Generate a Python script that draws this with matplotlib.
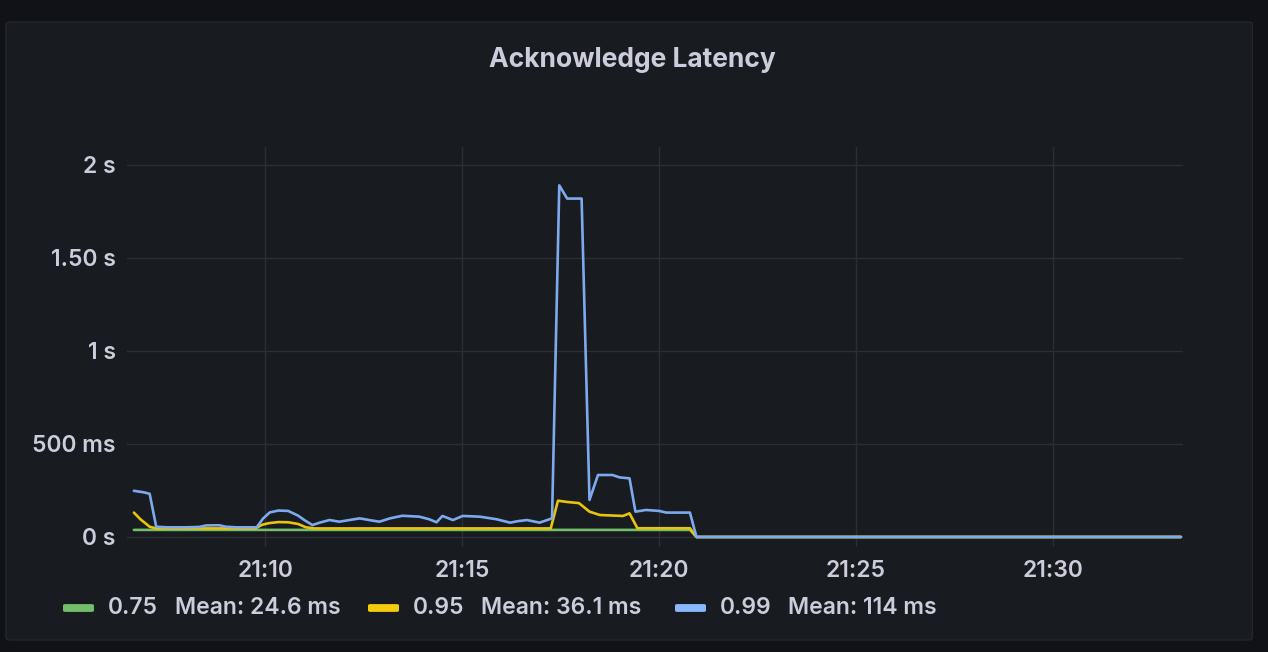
import matplotlib
matplotlib.use("Agg")
import matplotlib.pyplot as plt
from matplotlib.patches import FancyBboxPatch
import pandas as pd

title = "Acknowledge Latency"
day = "2021-06-01 "

# p75 latency (ms)
p75_times = ["21:06:40", "21:20:47", "21:20:57", "21:33:15"]
p75_ms = [38, 38, 0, 0]

# p95 latency (ms)
p95_times = ["21:06:40", "21:06:50", "21:07:04", "21:07:14", "21:09:45", "21:09:55",
             "21:10:05", "21:10:20", "21:10:35", "21:10:50", "21:11:02", "21:11:15",
             "21:17:15", "21:17:26", "21:17:40", "21:17:58", "21:18:14", "21:18:30",
             "21:19:05", "21:19:15", "21:19:27", "21:20:47", "21:20:57", "21:33:15"]
p95_ms = [131, 95, 55, 46, 46, 65,
          74, 80, 79, 70, 52, 46,
          46, 195, 188, 182, 136, 118,
          113, 127, 47, 47, 0, 0]

# p99 latency (ms)
p99_times = ["21:06:40", "21:06:55", "21:07:04", "21:07:14", "21:07:30", "21:08:00",
             "21:08:20", "21:08:30", "21:08:50", "21:09:00", "21:09:15", "21:09:47",
             "21:09:57", "21:10:07", "21:10:20", "21:10:35", "21:10:50", "21:11:00",
             "21:11:12", "21:11:23", "21:11:38", "21:11:53", "21:12:10", "21:12:24",
             "21:12:40", "21:12:54", "21:13:10", "21:13:29", "21:13:55", "21:14:10",
             "21:14:21", "21:14:30", "21:14:46", "21:15:01", "21:15:27", "21:15:53",
             "21:16:13", "21:16:25", "21:16:39", "21:16:58", "21:17:17", "21:17:28",
             "21:17:40", "21:18:02", "21:18:14", "21:18:27", "21:18:49", "21:19:00",
             "21:19:15", "21:19:24", "21:19:40", "21:20:00", "21:20:11", "21:20:47",
             "21:20:57", "21:33:15"]
p99_ms = [248, 240, 232, 55, 52, 52,
          54, 62, 63, 55, 52, 52,
          100, 132, 142, 140, 115, 90,
          64, 77, 91, 82, 92, 100,
          90, 82, 100, 114, 109, 95,
          79, 113, 91, 113, 109, 95,
          77, 85, 91, 77, 100, 1889,
          1818, 1818, 199, 333, 333, 320,
          315, 136, 145, 140, 131, 131,
          0, 0]

series_names = ["0.75", "0.95", "0.99"]
series_means = ["Mean: 24.6 ms", "Mean: 36.1 ms", "Mean: 114 ms"]
series_colors = ["#73BF69", "#F2CC0C", "#8AB8FF"]
line_colors = ["#73BF69", "#E8C40E", "#7DAAEE"]

y_ticks = [0, 0.5, 1, 1.5, 2]
y_tick_labels = ["0 s", "500 ms", "1 s", "1.50 s", "2 s"]
x_tick_labels = ["21:10", "21:15", "21:20", "21:25", "21:30"]

outer_bg = "#111217"
panel_bg = "#181b1f"
text_color = "#ccccdc"
grid_color = "#2b2e34"

plt.rcParams['font.family'] = ['Inter', 'DejaVu Sans']

fig = plt.figure(figsize=(12.68, 6.52), dpi=100)
fig.patch.set_facecolor(outer_bg)

# panel box (behind the axes)
panel = FancyBboxPatch((0.0047, 0.0184), 0.983, 0.948, boxstyle="round,pad=0,rounding_size=0.004",
                       transform=fig.transFigure, facecolor=panel_bg, edgecolor="#23262b",
                       linewidth=1, zorder=-10)
fig.patches.append(panel)

ax = fig.add_axes([0.0999, 0.161, 0.833, 0.6135])
ax.set_zorder(5)
ax.patch.set_alpha(0)

def to_dt(times):
    return pd.to_datetime([day + t for t in times])

series = [(p75_times, p75_ms), (p95_times, p95_ms), (p99_times, p99_ms)]
for (times, vals), color in zip(series, line_colors):
    ax.plot(to_dt(times), [v / 1000 for v in vals], color=color, linewidth=1.9,
            solid_joinstyle='round', solid_capstyle='round')

ax.set_ylim(-0.054, 2.095)
ax.set_xlim(pd.Timestamp(day + "21:06:29"), pd.Timestamp(day + "21:33:18"))
ax.set_yticks(y_ticks)
ax.set_yticklabels(y_tick_labels, fontweight='semibold')
ax.set_xticks(to_dt([t + ":00" for t in x_tick_labels]))
ax.set_xticklabels(x_tick_labels, fontweight='semibold')

for s in ax.spines.values():
    s.set_visible(False)
ax.tick_params(length=0, colors=text_color, labelsize=16.5)
ax.tick_params(axis='y', pad=8)
ax.tick_params(axis='x', pad=9)
ax.grid(True, color=grid_color, linewidth=1)
ax.set_axisbelow(True)

fig.text(0.499, 0.908, title, ha='center', va='center', color=text_color,
         fontsize=19, fontweight='bold')

# legend row
leg_y = 0.0675
swatch_x = [63, 368, 675]
name_x = [108, 413, 720]
mean_x = [175, 481, 788]
for i in range(3):
    fig.patches.append(FancyBboxPatch((swatch_x[i] / 1268, leg_y - 0.006), 31 / 1268, 0.012,
                                      boxstyle="round,pad=0,rounding_size=0.002",
                                      transform=fig.transFigure, facecolor=series_colors[i],
                                      edgecolor='none', zorder=2))
    fig.text(name_x[i] / 1268, leg_y, series_names[i], ha='left', va='center',
             color=text_color, fontsize=16.5, fontweight='semibold')
    fig.text(mean_x[i] / 1268, leg_y, series_means[i], ha='left', va='center',
             color=text_color, fontsize=16.5, fontweight='semibold')

fig.savefig("out.png", dpi=100, facecolor=fig.get_facecolor())
